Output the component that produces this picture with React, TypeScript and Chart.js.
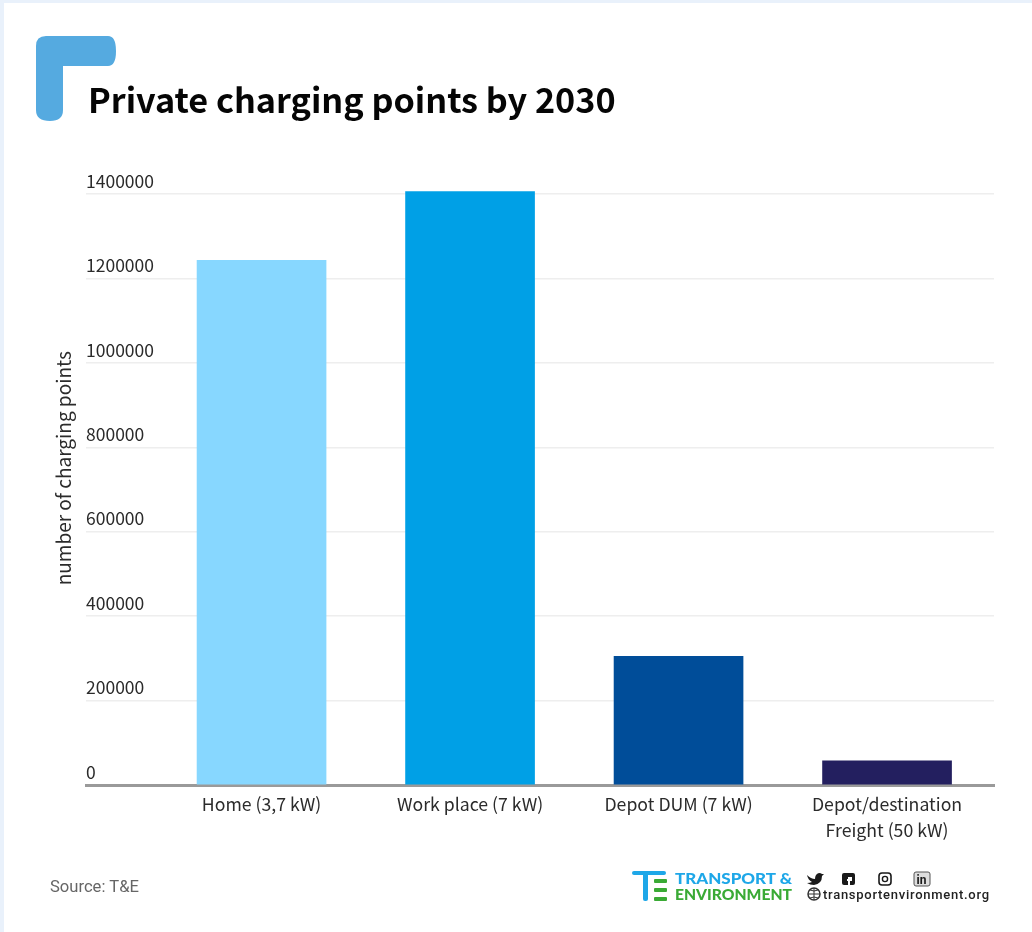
import React, { useEffect, useRef } from "react";
import { Chart, registerables } from "chart.js";

Chart.register(...registerables);

const categories: (string | string[])[] = [
  "Home (3,7 kW)",
  "Work place (7 kW)",
  "Depot DUM (7 kW)",
  ["Depot/destination", "Freight (50 kW)"],
];
const chargingPoints = [1243000, 1406000, 305000, 57000];
const barColors = ["#87d7ff", "#00a0e6", "#004d99", "#231f5f"];
const yTickStep = 200000;
const yMax = 1400000;

const LABEL_FONT = '"Noto Sans CJK SC", "Noto Sans", sans-serif';
const INK = "#2b2b2b";

// leading non-breaking spaces lift the centred axis title above the middle of the scale
const yTitle = "\u00a0".repeat(10) + "number of charging points";

function LogoMark() {
  return (
    <svg
      width="1032"
      height="932"
      style={{ position: "absolute", left: 0, top: 0, pointerEvents: "none" }}
    >
      {/* corner bracket next to the heading */}
      <path
        d="M46 36 H108 Q116 36 116 51 Q116 66 108 66 H63 V110 Q63 121 50 121 Q36 121 36 110 V46 Q36 36 46 36 Z"
        fill="#55aae0"
      />
      {/* T&E monogram */}
      <rect x="632" y="871" width="34" height="4" rx="2" fill="#1ea7e8" />
      <rect x="643" y="871" width="5" height="30" rx="2" fill="#1ea7e8" />
      <rect x="654" y="879" width="13" height="4" rx="1" fill="#3aaa35" />
      <rect x="654" y="888" width="13" height="4" rx="1" fill="#3aaa35" />
      <rect x="654" y="897" width="13" height="4" rx="1" fill="#3aaa35" />
      <text x="675" y="884" fontFamily="Lato" fontWeight="900" fontSize="15.5" fill="#1ea7e8" textLength="117" lengthAdjust="spacingAndGlyphs">
        TRANSPORT &amp;
      </text>
      <text x="675" y="900" fontFamily="Lato" fontWeight="900" fontSize="15.5" fill="#3aaa35" textLength="117" lengthAdjust="spacingAndGlyphs">
        ENVIRONMENT
      </text>
      {/* social icons */}
      <path
        d="M807 875 Q811 879 815 879 Q815 874 819 873 Q821 873 822 874 L824 874 L822 876 Q822 884 814 885 Q810 885 807 883 Q810 883 812 882 Q808 880 807 875 Z"
        fill="#1a1a1a"
      />
      <rect x="842" y="873" width="13" height="12" rx="2" fill="#1a1a1a" />
      <path d="M849 885 V878 H852 M847 880 H852" stroke="#ffffff" strokeWidth="2" fill="none" />
      <rect x="879" y="873" width="12" height="12" rx="3" fill="none" stroke="#1a1a1a" strokeWidth="1.6" />
      <circle cx="885" cy="879" r="2.6" fill="none" stroke="#1a1a1a" strokeWidth="1.4" />
      <rect x="914" y="872" width="16" height="14" rx="2" fill="#dddddd" stroke="#555555" strokeWidth="1" />
      <text x="916.5" y="884" fontFamily="Roboto" fontWeight="700" fontSize="12" fill="#1a1a1a">
        in
      </text>
      <circle cx="814" cy="894" r="6" fill="none" stroke="#333333" strokeWidth="1.5" />
      <path d="M808 894 H820 M814 888 V900 M810 890 Q814 892 818 890 M810 898 Q814 896 818 898" fill="none" stroke="#333333" strokeWidth="1" />
      <text x="823" y="899" fontFamily="Roboto" fontWeight="500" fontSize="13" fill="#222222" textLength="166" lengthAdjust="spacing">
        transportenvironment.org
      </text>
    </svg>
  );
}

export default function App() {
  const canvasRef = useRef<HTMLCanvasElement>(null);

  useEffect(() => {
    if (!canvasRef.current) return;
    const chart = new Chart(canvasRef.current, {
      type: "bar",
      data: {
        datasets: [
          {
            data: chargingPoints.map((y, x) => ({ x, y })),
            backgroundColor: barColors,
            barThickness: 129,
            clip: false,
          },
        ],
      },
      options: {
        animation: false,
        responsive: false,
        layout: { padding: { left: 0, top: 194, right: 38, bottom: 0 } },
        plugins: { legend: { display: false }, tooltip: { enabled: false } },
        scales: {
          x: {
            type: "linear",
            offset: false,
            // leaves room left of the first bar for the y tick labels
            min: -0.842,
            max: 3.513,
            afterBuildTicks: (scale: any) => {
              scale.ticks = categories.map((_, value) => ({ value }));
            },
            afterFit: (scale: any) => {
              scale.height = 147;
            },
            grid: { display: false, drawTicks: false, offset: false },
            border: { display: true, color: "#9a9a9a", width: 3 },
            ticks: {
              autoSkip: false,
              maxRotation: 0,
              padding: 6,
              color: INK,
              font: { family: LABEL_FONT, size: 17.7, lineHeight: 1.47 },
              callback: (value: any) => categories[value as number] ?? "",
            },
          },
          y: {
            min: 0,
            max: yMax,
            afterFit: (scale: any) => {
              scale.width = 86;
            },
            grid: { color: "#eeeeee", lineWidth: 1.5, drawTicks: false },
            border: { display: false },
            title: {
              display: true,
              text: yTitle,
              color: INK,
              font: { family: LABEL_FONT, size: 19 },
              padding: { top: 52, bottom: 0 },
            },
            ticks: {
              stepSize: yTickStep,
              mirror: true,
              padding: 0,
              labelOffset: -13,
              color: INK,
              font: { family: LABEL_FONT, size: 17.5 },
              callback: (value: any) => String(value),
            },
          },
        },
      },
    });
    return () => chart.destroy();
  }, []);

  return (
    <div
      style={{
        position: "relative",
        width: 1032,
        height: 932,
        overflow: "hidden",
        background: "#e9f1fb",
      }}
    >
      <style>{"body{margin:0}"}</style>
      <div style={{ position: "absolute", left: 4, top: 3, right: 0, bottom: 0, background: "#ffffff" }} />
      <canvas
        ref={canvasRef}
        width={1032}
        height={932}
        style={{ position: "absolute", left: 0, top: 0, display: "block" }}
      />
      <LogoMark />
      <div
        style={{
          position: "absolute",
          left: 88,
          top: 72,
          fontFamily: LABEL_FONT,
          fontWeight: 700,
          fontSize: 34.2,
          lineHeight: "52px",
          color: "#050505",
          whiteSpace: "nowrap",
        }}
      >
        Private charging points by 2030
      </div>
      <div
        style={{
          position: "absolute",
          left: 50,
          top: 878,
          fontFamily: "Roboto, sans-serif",
          fontSize: 16.6,
          lineHeight: "18px",
          color: "#666666",
          whiteSpace: "nowrap",
        }}
      >
        Source: T&amp;E
      </div>
    </div>
  );
}
